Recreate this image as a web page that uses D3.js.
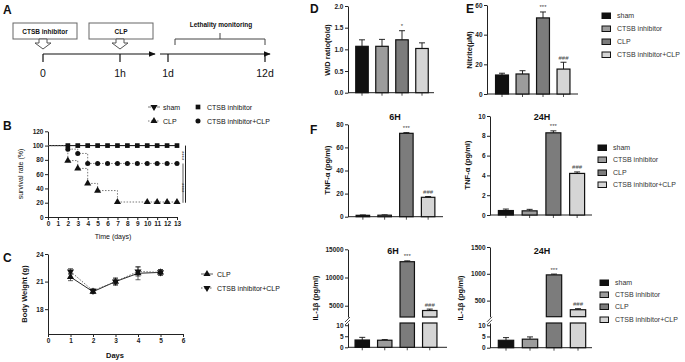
<!DOCTYPE html>
<html>
<head>
<meta charset="utf-8">
<script src="https://cdn.jsdelivr.net/npm/d3@7"></script>
<style>
  body { margin: 0; background: #fff; }
  svg { font-family: Arial, "Liberation Sans", sans-serif; }
  .tick text { font-size: 6.5px; font-weight: bold; fill: #222; }
  .domain, .tick line { stroke: #222; }
</style>
</head>
<body>
<svg id="fig" width="685" height="362"></svg>
<script>
// ---- data ----
const groups = ['sham', 'CTSB inhibitor', 'CLP', 'CTSB inhibitor+CLP'];
const groupFill = ['#111', '#9c9c9c', '#7c7c7c', '#d5d5d5'];

// B: survival (%)
const survDays = [0, 1, 2, 3, 4, 5, 6, 7, 8, 9, 10, 11, 12, 13];
const survSham = [100, 100, 100, 100, 100, 100, 100, 100, 100, 100, 100, 100, 100, 100];
const survCtsb = [100, 100, 100, 100, 100, 100, 100, 100, 100, 100, 100, 100, 100, 100];
const survClp = [100, 100, 79, 68, 47, 37, 37, 21, 21, 21, 21, 21, 21, 21];
const survCombo = [100, 100, 95, 89, 75, 75, 75, 75, 75, 75, 75, 75, 75, 75];
const markDaysAll = [2, 3, 4, 5, 6, 7, 8, 9, 10, 11, 12, 13];
const markDaysClp = [2, 3, 4, 5, 7, 10, 11, 12, 13];

// C: body weight (g)
const bwDays = [1, 2, 3, 4, 5];
const bwClp = [21.5, 19.9, 21.0, 21.9, 22.0];
const bwClpErr = [0.4, 0.2, 0.4, 0.7, 0.3];
const bwCombo = [22.1, 20.0, 21.0, 22.1, 22.0];
const bwComboErr = [0.3, 0.2, 0.3, 0.5, 0.3];

// D - F: bar values (mean, sem, marks)
const wdMean = [1.07, 1.07, 1.22, 1.02];
const wdErr = [0.15, 0.16, 0.21, 0.13];
const wdMarks = ['', '', '*', ''];
const nitriteMean = [12.8, 13.5, 51.3, 16.8];
const nitriteErr = [1.2, 2.2, 4.0, 4.6];
const tnf6Mean = [1.2, 1.3, 72.2, 16.8];
const tnf6Err = [0.3, 0.3, 0.6, 0.7];
const tnf24Mean = [0.45, 0.42, 8.3, 4.2];
const tnf24Err = [0.15, 0.15, 0.2, 0.15];
const il6Mean = [3.3, 3.2, 12800, 4150];
const il6Err = [1.2, 0.3, 150, 250];
const il24Mean = [3.3, 3.8, 980, 330];
const il24Err = [1.2, 1.0, 15, 20];
const sigMarks = ['', '', '***', '###'];

const svg = d3.select('#fig');
const intFmt = d3.format('d');

function label(x, y, t, size, weight, anchor) {
  return svg.append('text').attr('x', x).attr('y', y)
    .attr('font-size', size).attr('font-weight', weight || 'normal')
    .attr('text-anchor', anchor || 'start').attr('fill', '#111').text(t);
}

function vlabel(x, y, t, size, weight) {
  return svg.append('text').attr('transform', `translate(${x},${y}) rotate(-90)`)
    .attr('font-size', size).attr('font-weight', weight || 'bold')
    .attr('text-anchor', 'middle').attr('fill', '#111').text(t);
}

function yAxis(x, scale, ticks, format) {
  return svg.append('g').attr('transform', `translate(${x},0)`)
    .call(d3.axisLeft(scale).tickValues(ticks).tickSize(3).tickSizeOuter(0)
      .tickPadding(1.5).tickFormat(format || intFmt));
}

// ---- A: timeline ----
label(3, 14, 'A', 12, 'bold');
[[13, 43, 'CTSB inhibitor'], [89, 120, 'CLP']].forEach(([bx, cx, t]) => {
  svg.append('rect').attr('x', bx).attr('y', 23).attr('width', 64).attr('height', 16)
    .attr('fill', '#fff').attr('stroke', '#666');
  label(bx + 32, 34, t, 6.5, 'bold', 'middle');
  const y0 = 39;
  svg.append('polygon').attr('fill', '#fff').attr('stroke', '#555')
    .attr('points', [[cx - 4, y0], [cx + 4, y0], [cx + 4, y0 + 4], [cx + 8, y0 + 4],
      [cx, y0 + 10], [cx - 8, y0 + 4], [cx - 4, y0 + 4]].join(' '));
});
svg.append('defs').append('marker').attr('id', 'ah').attr('viewBox', '0 0 10 10')
  .attr('refX', 9).attr('refY', 5).attr('markerWidth', 6).attr('markerHeight', 6)
  .attr('orient', 'auto').append('path').attr('d', 'M0,1L10,5L0,9Z').attr('fill', '#111');
[[43, 155], [160, 270]].forEach(([a, b]) => {
  svg.append('line').attr('x1', a).attr('x2', b).attr('y1', 54).attr('y2', 54)
    .attr('stroke', '#111').attr('stroke-width', 1.2).attr('marker-end', 'url(#ah)');
});
[[43, '0'], [120, '1h'], [168, '1d'], [265, '12d']].forEach(([x, t]) => {
  svg.append('line').attr('x1', x).attr('x2', x).attr('y1', 54).attr('y2', 62)
    .attr('stroke', '#111').attr('stroke-width', 1.2);
  label(x, 77, t, 10.5, 'normal', 'middle');
});
svg.append('path').attr('fill', 'none').attr('stroke', '#444')
  .attr('d', 'M175,45V39H265V45M220,39V33');
label(221, 27, 'Lethality monitoring', 6.5, 'bold', 'middle');

// ---- B: survival ----
label(3, 130, 'B', 12, 'bold');
const xB = d3.scaleLinear().domain([0, 13]).range([48, 177]);
const yB = d3.scaleLinear().domain([0, 120]).range([217, 131.3]);
yAxis(48, yB, d3.range(0, 121, 20));
svg.append('g').attr('transform', 'translate(0,217)')
  .call(d3.axisBottom(xB).tickValues(survDays).tickSize(3).tickSizeOuter(0).tickPadding(1.5).tickFormat(intFmt));
vlabel(23, 174, 'survival rate (%)', 7, 'normal');
label(113, 239, 'Time (days)', 7, 'normal', 'middle');

const stepLine = d3.line().curve(d3.curveStepAfter).x((d, i) => xB(survDays[i])).y(d => yB(d));
const survSeries = [
  {vals: survSham, dash: null, col: '#111', sym: 'down', days: []},
  {vals: survCtsb, dash: null, col: '#111', sym: 'square', days: markDaysAll},
  {vals: survClp, dash: '1.5,1.5', col: '#555', sym: 'up', days: markDaysClp},
  {vals: survCombo, dash: '1.5,1.5', col: '#555', sym: 'circle', days: markDaysAll}
];
function symPath(kind) {
  const t = kind === 'square' ? d3.symbolSquare : kind === 'circle' ? d3.symbolCircle : d3.symbolTriangle;
  return d3.symbol().type(t).size(kind === 'circle' ? 20 : 22)();
}
function drawSym(x, y, kind) {
  svg.append('path').attr('d', symPath(kind)).attr('fill', '#111')
    .attr('transform', `translate(${x},${y})` + (kind === 'down' ? ' rotate(180)' : ''));
}
survSeries.forEach(s => {
  svg.append('path').datum(s.vals).attr('d', stepLine).attr('fill', 'none')
    .attr('stroke', s.col).attr('stroke-width', 0.8).attr('stroke-dasharray', s.dash);
});
survSeries.forEach(s => {
  s.days.forEach(d => drawSym(xB(d), yB(s.vals[survDays.indexOf(d)]), s.sym));
});
// legend B
[[154, 107, 'down', 'sham', null], [198, 107, 'square', 'CTSB inhibitor', null],
 [154, 121, 'up', 'CLP', '1.5,1.5'], [198, 121, 'circle', 'CTSB inhibitor+CLP', null]].forEach(([x, y, k, t, dash]) => {
  if (k === 'down' || k === 'up') {
    svg.append('line').attr('x1', x - 6).attr('x2', x + 6).attr('y1', y).attr('y2', y)
      .attr('stroke', '#555').attr('stroke-width', 0.8).attr('stroke-dasharray', dash || '3,1.5');
  }
  drawSym(x, y, k);
  label(x + 9, y + 2.5, t, 7, 'normal');
});
// significance bars
svg.append('line').attr('x1', 185.5).attr('x2', 185.5).attr('y1', yB(100)).attr('y2', yB(20))
  .attr('stroke', '#222').attr('stroke-width', 1);
svg.append('line').attr('x1', 183).attr('x2', 183).attr('y1', yB(75)).attr('y2', yB(20))
  .attr('stroke', '#888').attr('stroke-width', 1.4);
[86, 41].forEach(v => {
  svg.append('text').attr('transform', `translate(179.5,${yB(v)}) rotate(90)`)
    .attr('font-size', 6).attr('text-anchor', 'middle').attr('fill', '#333').text('****');
});

// ---- C: body weight ----
label(3, 262, 'C', 12, 'bold');
const xC = d3.scaleLinear().domain([0, 6]).range([48, 183]);
const yC = d3.scaleLinear().domain([15.3, 24]).range([334, 254]);
yAxis(48, yC, [18, 21, 24]);
svg.append('g').attr('transform', 'translate(0,334)')
  .call(d3.axisBottom(xC).tickValues(d3.range(0, 7)).tickSize(3).tickSizeOuter(0).tickPadding(1.5).tickFormat(intFmt));
vlabel(27, 294, 'Body Weight (g)', 7.5, 'bold');
label(115, 358, 'Days', 7.5, 'bold', 'middle');
[[bwClp, bwClpErr, null, 'up', '#111'], [bwCombo, bwComboErr, '1.5,1.5', 'down', '#555']].forEach(([m, e, dash, k, col]) => {
  svg.append('path').datum(m)
    .attr('d', d3.line().x((d, i) => xC(bwDays[i])).y(d => yC(d)))
    .attr('fill', 'none').attr('stroke', col).attr('stroke-width', 0.9).attr('stroke-dasharray', dash);
  m.forEach((v, i) => {
    const x = xC(bwDays[i]);
    svg.append('path').attr('fill', 'none').attr('stroke', '#222').attr('stroke-width', 0.7)
      .attr('d', `M${x},${yC(v - e[i])}V${yC(v + e[i])}M${x - 2.5},${yC(v - e[i])}h5M${x - 2.5},${yC(v + e[i])}h5`);
    drawSym(x, yC(v), k);
  });
});
[[207, 274, 'up', 'CLP', null], [207, 288, 'down', 'CTSB inhibitor+CLP', '1.5,1.5']].forEach(([x, y, k, t, dash]) => {
  svg.append('line').attr('x1', x - 6).attr('x2', x + 6).attr('y1', y).attr('y2', y)
    .attr('stroke', '#333').attr('stroke-width', 0.8).attr('stroke-dasharray', dash);
  drawSym(x, y, k);
  label(x + 10, y + 2.5, t, 7, 'normal');
});

// ---- bar panels ----
function barPanel(o) {
  const x = d3.scaleBand().domain(groups).range(o.xr).paddingInner(o.pi).paddingOuter(o.pi / 2);
  const lo = o.y;
  const hi = o.yHi;
  const loTop = lo.domain()[1];
  const baseY = lo(0);
  // axes
  yAxis(o.ax, lo, o.ticks, o.fmt);
  if (hi) {
    yAxis(o.ax, hi, o.hiTicks, o.fmt);
    const b = (lo.range()[1] + hi.range()[0]) / 2;
    svg.append('path').attr('stroke', '#222').attr('stroke-width', 0.8)
      .attr('d', `M${o.ax - 3},${b + 2}l5,-5M${o.ax - 3},${b + 5}l5,-5`);
  }
  svg.append('line').attr('x1', o.ax).attr('x2', o.xEnd).attr('y1', baseY).attr('y2', baseY)
    .attr('stroke', '#222').attr('stroke-width', 1);
  groups.forEach((g, i) => {
    const cx = x(g) + x.bandwidth() / 2;
    svg.append('line').attr('x1', cx).attr('x2', cx).attr('y1', baseY).attr('y2', baseY + 3)
      .attr('stroke', '#222').attr('stroke-width', 0.8);
    const m = o.mean[i], e = o.err[i];
    const segs = [];
    let sc = lo;
    if (!hi || m <= loTop) {
      segs.push([lo(m), baseY]);
    } else {
      segs.push([lo.range()[1], baseY]);
      segs.push([hi(m), hi.range()[0]]);
      sc = hi;
    }
    const et = sc(m + e);
    svg.append('path').attr('fill', 'none').attr('stroke', '#111').attr('stroke-width', 0.9)
      .attr('d', `M${cx},${sc(m)}V${et}M${cx - 3},${et}h6`);
    segs.forEach(([t, b]) => {
      svg.append('rect').attr('x', x(g)).attr('y', t).attr('width', x.bandwidth())
        .attr('height', b - t).attr('fill', groupFill[i]).attr('stroke', '#111').attr('stroke-width', 1.2);
    });
    if (o.marks[i]) {
      svg.append('text').attr('x', cx).attr('y', et - 2.5).attr('text-anchor', 'middle')
        .attr('font-size', 6).attr('fill', '#444').text(o.marks[i]);
    }
  });
  if (o.title) label(o.titleX, o.titleY, o.title, 9, 'bold', 'middle');
  vlabel(o.lx, o.ly, o.ylab, 7.5, 'bold');
}

function barLegend(x, ys) {
  groups.forEach((g, i) => {
    svg.append('rect').attr('x', x).attr('y', ys[i] - 3).attr('width', 8.5).attr('height', 5.5)
      .attr('fill', groupFill[i]).attr('stroke', '#111').attr('stroke-width', 1);
    svg.append('text').attr('x', x + 15).attr('y', ys[i] + 2.3).attr('font-size', 7)
      .attr('fill', '#333').text(g);
  });
}

// D
label(310, 13, 'D', 12, 'bold');
barPanel({xr: [352, 432], pi: 0.375, ax: 348, xEnd: 434,
  y: d3.scaleLinear().domain([0, 2]).range([92.7, 6]), ticks: [0, 0.5, 1, 1.5, 2], fmt: d3.format('.1f'),
  mean: wdMean, err: wdErr, marks: wdMarks, ylab: 'W/D ratio(fold)', lx: 330, ly: 50});

// E
label(466, 13, 'E', 12, 'bold');
barPanel({xr: [491.75, 573.75], pi: 0.37, ax: 487, xEnd: 578,
  y: d3.scaleLinear().domain([0, 60]).range([94, 5]), ticks: [0, 20, 40, 60],
  mean: nitriteMean, err: nitriteErr, marks: sigMarks, ylab: 'Nitrite(μM)', lx: 472, ly: 50});
barLegend(602, [16, 29, 42, 55]);

// F
label(310, 134, 'F', 12, 'bold');
barPanel({xr: [352, 439], pi: 0.38, ax: 348, xEnd: 443,
  y: d3.scaleLinear().domain([0, 80]).range([216.7, 124.3]), ticks: [0, 20, 40, 60, 80],
  mean: tnf6Mean, err: tnf6Err, marks: sigMarks, title: '6H', titleX: 395, titleY: 120,
  ylab: 'TNF-α (pg/ml)', lx: 330, ly: 170});
barPanel({xr: [494, 589], pi: 0.37, ax: 490, xEnd: 592,
  y: d3.scaleLinear().domain([0, 10]).range([215, 116]), ticks: [0, 2, 4, 6, 8, 10],
  mean: tnf24Mean, err: tnf24Err, marks: sigMarks, title: '24H', titleX: 542, titleY: 120,
  ylab: 'TNF-α (pg/ml)', lx: 470, ly: 165});
barLegend(598, [148, 160, 173, 185]);

barPanel({xr: [351, 441], pi: 0.36, ax: 348, xEnd: 447,
  y: d3.scaleLinear().domain([0, 11]).range([347.3, 323]), ticks: [0, 5, 10],
  yHi: d3.scaleLinear().domain([3000, 15000]).range([317, 249.3]), hiTicks: [5000, 10000, 15000],
  mean: il6Mean, err: il6Err, marks: sigMarks, title: '6H', titleX: 393, titleY: 254,
  ylab: 'IL-1β (pg/ml)', lx: 318, ly: 298});
barPanel({xr: [494, 590], pi: 0.36, ax: 490, xEnd: 592,
  y: d3.scaleLinear().domain([0, 11]).range([347.7, 323]), ticks: [0, 5, 10],
  yHi: d3.scaleLinear().domain([200, 1500]).range([316.7, 247]), hiTicks: [500, 1000, 1500],
  mean: il24Mean, err: il24Err, marks: sigMarks, title: '24H', titleX: 542, titleY: 254,
  ylab: 'IL-1β (pg/ml)', lx: 463, ly: 298});
barLegend(600, [283, 295, 307, 320]);
</script>
</body>
</html>
